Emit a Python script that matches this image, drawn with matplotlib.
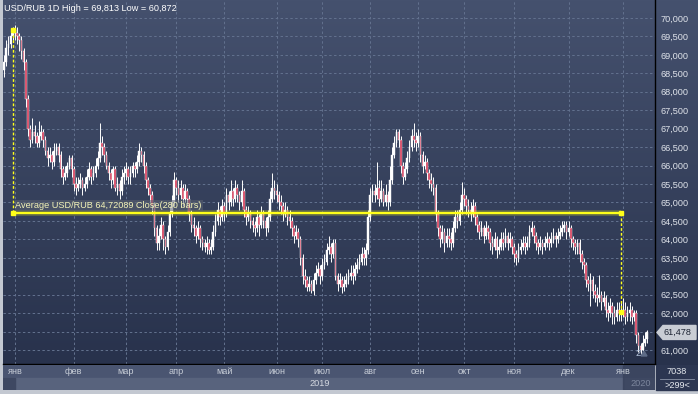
import matplotlib
matplotlib.use("Agg")
import matplotlib.pyplot as plt
import numpy as np
from matplotlib.colors import LinearSegmentedColormap
from matplotlib.patches import Rectangle, Polygon

plt.rcParams['font.family'] = ['Liberation Sans', 'DejaVu Sans']

# daily USD/RUB bars
first_open = 68.6
closes = [
    68.8, 69.2, 69.3, 69.5, 69.67, 69.6, 69.5, 69.4, 69.1, 68.8,
    67.8, 67.0, 66.7, 66.9, 66.8, 66.6, 66.8, 66.9, 66.7, 66.4,
    66.2, 66.3, 66.1, 66.4, 66.5, 66.3, 65.9, 65.7, 65.8, 66.0,
    66.2, 65.9, 65.5, 65.4, 65.5, 65.6, 65.4, 65.5, 65.7, 65.9,
    65.7, 65.8, 66.0, 66.2, 66.6, 66.5, 66.3, 66.0, 65.8, 65.6,
    65.9, 65.4, 65.5, 65.3, 65.7, 65.8, 65.9, 65.7, 65.8, 66.0,
    65.9, 66.1, 66.4, 66.3, 66.0, 65.6, 65.4, 65.2, 64.9, 64.3,
    63.9, 64.1, 64.4, 64.0, 63.8, 64.2, 64.7, 65.0, 65.6, 65.4,
    65.2, 65.4, 65.1, 65.3, 65.1, 64.7, 64.4, 64.3, 64.1, 64.3,
    64.0, 63.9, 63.8, 63.9, 63.7, 63.8, 64.2, 64.5, 64.8, 64.6,
    64.9, 64.7, 65.2, 65.0, 65.3, 65.1, 65.4, 65.2, 65.0, 65.3,
    64.8, 64.6, 64.7, 64.5, 64.4, 64.3, 64.6, 64.4, 64.7, 64.5,
    64.3, 64.6, 65.1, 65.4, 65.3, 65.2, 65.0, 64.9, 64.7, 64.8,
    64.6, 64.5, 64.3, 64.1, 64.2, 64.0, 63.5, 63.0, 62.9, 62.7,
    62.8, 62.6, 62.9, 63.1, 63.2, 63.0, 63.3, 63.4, 63.7, 63.8,
    63.6, 63.9, 63.0, 62.8, 62.9, 62.7, 62.8, 62.9, 63.0, 63.1,
    63.0, 63.2, 63.3, 63.4, 63.6, 63.5, 63.7, 64.6, 65.2, 65.3,
    65.2, 65.4, 65.1, 65.3, 65.0, 65.2, 65.0, 65.6, 66.3, 66.6,
    66.9, 66.7, 66.0, 65.7, 65.9, 66.2, 66.5, 66.8, 66.7, 66.6,
    66.8, 66.3, 66.0, 66.1, 65.8, 65.6, 65.5, 65.4, 64.7, 64.3,
    64.0, 64.2, 63.9, 64.1, 64.0, 63.9, 64.3, 64.6, 64.5, 64.8,
    65.2, 65.1, 64.9, 64.8, 64.7, 64.9, 64.6, 64.4, 64.2, 64.3,
    64.1, 64.3, 64.2, 63.9, 63.8, 64.0, 63.7, 63.8, 64.0, 63.9,
    64.1, 63.9, 64.0, 63.8, 63.6, 63.5, 63.7, 63.8, 63.9, 63.8,
    63.9, 64.2, 64.3, 64.1, 63.9, 63.8, 63.9, 63.8, 63.9, 64.0,
    63.9, 64.0, 64.1, 64.0, 64.1, 64.2, 64.3, 64.4, 64.2, 64.3,
    64.0, 63.9, 63.8, 63.9, 63.6, 63.4, 63.3, 62.9, 62.8, 62.9,
    62.6, 62.5, 62.4, 62.5, 62.3, 62.4, 62.1, 62.0, 62.2, 62.0,
    61.9, 62.1, 62.0, 62.03, 62.1, 61.9, 62.0, 62.1, 61.9, 62.0,
    61.4, 61.1, 61.0, 61.2, 61.3, 61.478,
]
highs = [
    69.0, 69.4, 69.5, 69.7, 69.75, 69.813, 69.75, 69.6, 69.5, 69.2,
    68.9, 67.9, 67.1, 67.3, 67.1, 66.9, 67.2, 67.1, 67.0, 66.8,
    66.5, 66.5, 66.4, 66.6, 66.6, 66.6, 66.4, 66.0, 66.0, 66.1,
    66.3, 66.3, 66.0, 65.7, 65.7, 65.8, 65.7, 65.7, 65.9, 66.1,
    66.0, 66.0, 66.2, 66.4, 67.15, 66.8, 66.6, 66.4, 66.1, 65.9,
    66.0, 66.0, 65.7, 65.6, 65.9, 66.0, 66.1, 66.0, 66.0, 66.1,
    66.1, 66.3, 66.6, 66.5, 66.4, 66.1, 65.7, 65.5, 65.3, 65.0,
    64.4, 64.3, 64.6, 64.5, 64.1, 64.4, 64.9, 65.2, 65.83, 65.7,
    65.6, 65.6, 65.5, 65.5, 65.4, 65.2, 64.8, 64.6, 64.4, 64.5,
    64.4, 64.1, 64.0, 64.1, 64.0, 64.0, 64.4, 64.7, 65.0, 64.9,
    65.1, 65.0, 65.4, 65.3, 65.6, 65.4, 65.6, 65.5, 65.3, 65.6,
    65.4, 64.9, 64.9, 64.8, 64.6, 64.5, 64.8, 64.7, 64.9, 64.8,
    64.6, 64.8, 65.3, 65.8, 65.6, 65.5, 65.3, 65.2, 65.0, 65.0,
    64.9, 64.8, 64.6, 64.4, 64.4, 64.3, 64.1, 63.6, 63.2, 63.0,
    63.0, 62.9, 63.1, 63.3, 63.4, 63.3, 63.5, 63.6, 63.9, 64.1,
    63.9, 64.0, 64.0, 63.1, 63.1, 63.0, 63.0, 63.1, 63.2, 63.3,
    63.3, 63.4, 63.5, 63.6, 63.8, 63.8, 63.9, 64.8, 65.4, 65.5,
    65.5, 66.1, 65.6, 65.6, 65.4, 65.5, 65.3, 66.0, 66.5, 66.8,
    67.0, 67.0, 66.8, 66.1, 66.1, 66.4, 66.7, 67.0, 67.15, 66.9,
    67.0, 66.9, 66.4, 66.3, 66.2, 65.9, 65.8, 65.7, 65.5, 64.8,
    64.4, 64.4, 64.3, 64.3, 64.3, 64.2, 64.5, 64.8, 64.8, 65.0,
    65.55, 65.4, 65.2, 65.1, 65.0, 65.1, 65.0, 64.7, 64.5, 64.5,
    64.4, 64.5, 64.4, 64.3, 64.1, 64.2, 64.1, 64.0, 64.2, 64.2,
    64.3, 64.2, 64.2, 64.1, 63.9, 63.7, 63.9, 64.0, 64.1, 64.1,
    64.1, 64.4, 64.5, 64.4, 64.2, 64.0, 64.1, 64.0, 64.1, 64.2,
    64.1, 64.2, 64.3, 64.2, 64.3, 64.4, 64.5, 64.5, 64.5, 64.5,
    64.4, 64.1, 64.0, 64.0, 64.0, 63.7, 63.5, 63.4, 63.0, 63.1,
    63.0, 62.8, 62.7, 63.03, 62.6, 62.6, 62.5, 62.3, 62.4, 62.3,
    62.2, 62.3, 62.3, 62.3, 62.4, 62.3, 62.2, 62.3, 62.2, 62.1,
    62.1, 61.5, 61.2, 61.4, 61.5, 61.55,
]
lows = [
    68.4, 68.7, 69.0, 69.2, 69.4, 69.4, 69.3, 69.1, 68.9, 68.6,
    67.6, 66.8, 66.5, 66.6, 66.6, 66.5, 66.5, 66.7, 66.5, 66.3,
    66.0, 66.1, 65.9, 66.0, 66.3, 66.1, 65.7, 65.5, 65.6, 65.7,
    65.9, 65.7, 65.3, 65.2, 65.3, 65.4, 65.2, 65.3, 65.4, 65.6,
    65.5, 65.6, 65.7, 65.9, 66.1, 66.3, 66.1, 65.9, 65.6, 65.4,
    65.5, 65.3, 65.2, 65.1, 65.2, 65.5, 65.6, 65.5, 65.5, 65.7,
    65.7, 65.8, 66.0, 66.1, 65.8, 65.4, 65.2, 65.0, 64.7, 64.1,
    63.7, 63.7, 64.0, 63.7, 63.6, 63.7, 64.1, 64.6, 64.9, 65.2,
    65.0, 65.1, 64.9, 65.0, 64.9, 64.5, 64.2, 64.1, 63.9, 64.0,
    63.8, 63.7, 63.65, 63.6, 63.6, 63.6, 63.7, 64.1, 64.4, 64.4,
    64.5, 64.5, 64.6, 64.8, 64.9, 64.9, 65.0, 65.0, 64.8, 64.9,
    64.6, 64.4, 64.5, 64.3, 64.2, 64.1, 64.2, 64.1, 64.3, 64.3,
    64.1, 64.2, 64.5, 65.0, 65.1, 65.0, 64.8, 64.7, 64.5, 64.6,
    64.4, 64.3, 64.1, 63.9, 64.0, 63.8, 63.3, 62.8, 62.7, 62.6,
    62.6, 62.55, 62.5, 62.8, 63.0, 62.8, 62.9, 63.2, 63.3, 63.6,
    63.4, 63.5, 62.9, 62.6, 62.7, 62.55, 62.6, 62.7, 62.8, 62.9,
    62.8, 62.9, 63.1, 63.2, 63.3, 63.3, 63.3, 63.6, 64.5, 65.0,
    65.0, 65.1, 64.9, 65.0, 64.9, 64.9, 64.8, 64.9, 65.5, 66.2,
    66.5, 66.5, 65.8, 65.5, 65.6, 65.8, 66.1, 66.4, 66.5, 66.4,
    66.5, 66.1, 65.8, 65.9, 65.6, 65.4, 65.3, 65.2, 64.5, 64.1,
    63.8, 63.9, 63.65, 63.8, 63.8, 63.7, 63.8, 64.2, 64.3, 64.4,
    64.7, 64.9, 64.7, 64.6, 64.5, 64.6, 64.4, 64.2, 64.0, 64.1,
    63.9, 64.0, 64.0, 63.7, 63.6, 63.7, 63.5, 63.6, 63.7, 63.7,
    63.8, 63.7, 63.8, 63.6, 63.4, 63.3, 63.4, 63.6, 63.7, 63.6,
    63.7, 63.8, 64.1, 63.9, 63.7, 63.6, 63.7, 63.6, 63.7, 63.8,
    63.7, 63.8, 63.9, 63.8, 63.9, 64.0, 64.1, 64.2, 64.0, 64.1,
    63.8, 63.7, 63.6, 63.6, 63.4, 63.2, 63.1, 62.7, 62.6, 62.2,
    62.4, 62.3, 62.2, 62.3, 62.1, 62.2, 61.9, 61.8, 61.9, 61.7,
    61.7, 61.8, 61.8, 61.8, 61.9, 61.7, 61.8, 61.8, 61.7, 61.8,
    61.2, 60.95, 60.872, 60.9, 61.1, 61.2,
]

month_pos = [5, 32, 56, 79, 101, 125, 146, 168, 190, 211, 234, 259, 284]
month_names = ['янв', 'фев', 'мар', 'апр', 'май', 'июн', 'июл',
               'авг', 'сен', 'окт', 'ноя', 'дек', 'янв']
year_pos = [145, 292]
year_names = ['2019', '2020']
price_ticks = np.arange(61.0, 70.001, 0.5)

avg_start, avg_end = 4, 283
avg_value = 64.72089
avg_text = 'Average USD/RUB 64,72089 Close(280 bars)'
title = 'USD/RUB 1D High = 69,813 Low = 60,872'
last_price = 61.478

W, H = 698, 394
FS = 6.6
bar_px = 2.18


def rect(x0, y0, x1, y1):
    # pixel box -> figure fraction
    return [x0 / W, 1 - y1 / H, (x1 - x0) / W, (y1 - y0) / H]


def fmt(p):
    return f'{p:.3f}'.replace('.', ',')


fig = plt.figure(figsize=(W / 100, H / 100), dpi=100, facecolor='#c3c8d1')

# gradient background behind chart + right scale
bg = fig.add_axes(rect(3, 0, W, 365))
cmap = LinearSegmentedColormap.from_list('bg', ['#45516e', '#28324c'])
bg.imshow(np.linspace(0, 1, 256).reshape(-1, 1), aspect='auto', cmap=cmap,
          extent=[0, 1, 0, 1], origin='upper')
bg.set_axis_off()

ax = fig.add_axes(rect(3, 0, 655, 364))
ax.patch.set_alpha(0)
closes = np.array(closes)
highs = np.array(highs)
lows = np.array(lows)
opens = np.r_[first_open, closes[:-1]]
x = np.arange(len(closes))

y_top = 70 + 18 / 36.9
y_bot = 70 - (364 - 18) / 36.9
ax.set_ylim(y_bot, y_top)
ax.set_xlim(-1 / bar_px, (655 - 4) / bar_px)

grid_c = '#63728f'
for p in price_ticks:
    ax.axhline(p, color=grid_c, lw=0.7, ls=(0, (2.5, 2.5)), zorder=1)
for m in month_pos:
    ax.axvline(m, color=grid_c, lw=0.7, ls=(0, (2.5, 2.5)), zorder=1)

up = closes >= opens
body_lo = np.minimum(opens, closes)
body_h = np.maximum(np.abs(closes - opens), 0.03)
ax.vlines(x, lows, highs, color='white', lw=0.7, zorder=3)
ax.bar(x, body_h, bottom=body_lo, width=0.75,
       color=np.where(up, '#ffffff', '#d0304f'), edgecolor='white',
       linewidth=0.3, zorder=4)

# average close marker
yel = '#ffff1a'
ax.plot([avg_start, avg_end], [avg_value, avg_value], color=yel, lw=4,
        alpha=0.25, zorder=5, solid_capstyle='butt')
ax.plot([avg_start, avg_end], [avg_value, avg_value], color=yel, lw=1.6,
        zorder=6, solid_capstyle='butt')
ax.plot([avg_start, avg_start], [closes[avg_start], avg_value], color=yel,
        lw=1.0, ls=(0, (2, 1.5)), zorder=6)
ax.plot([avg_end, avg_end], [avg_value, closes[avg_end]], color=yel,
        lw=1.0, ls=(0, (2, 1.5)), zorder=6)
ax.plot([avg_start, avg_start, avg_end, avg_end],
        [closes[avg_start], avg_value, avg_value, closes[avg_end]],
        ls='none', marker='s', ms=3, color=yel, zorder=7)
ax.text(avg_start + 1.2, avg_value + 0.07, avg_text, fontsize=FS,
        color='#f4f4b8', va='bottom', ha='left', zorder=7,
        bbox=dict(facecolor='#5c6272', alpha=0.55, edgecolor='none', pad=0.6))

# right price scale; the 61,500 label sits under the last-price marker
ax.yaxis.tick_right()
ax.set_yticks(price_ticks)
ax.set_yticklabels(['' if abs(p - 61.5) < 1e-6 else fmt(p) for p in price_ticks])
ax.tick_params(axis='y', length=0, pad=4, labelsize=FS, colors='#dfe3ea')
ax.set_xticks([])
for side in ['top', 'left']:
    ax.spines[side].set_visible(False)
ax.spines['right'].set_color('black')
ax.spines['bottom'].set_color('black')
ax.spines['right'].set_linewidth(1)
ax.spines['bottom'].set_linewidth(1)

# time scale panel
tx = fig.add_axes(rect(3, 365, 655, 390))
tx.set_xlim(ax.get_xlim())
tx.set_ylim(25, 0)
tx.set_axis_off()
tx.add_patch(Rectangle((-5, 0), 400, 13, color='#4a5571', zorder=0))
tx.add_patch(Rectangle((-5, 13), 400, 12, color='#58637d', zorder=0))
tx.add_patch(Rectangle((-5, 13), 10, 12, color='#3e4862', zorder=1))
tx.add_patch(Rectangle((284, 0), 20, 25, color='#36405a', alpha=0.75, zorder=1))
for m, name in zip(month_pos, month_names):
    tx.text(m, 6.5, name, fontsize=FS, color='#c6ccd6', ha='center', va='center', zorder=2)
tx.text(year_pos[0], 19, year_names[0], fontsize=FS, color='#d4d8e0', ha='center', va='center')
tx.text(year_pos[1], 19, year_names[1], fontsize=FS, color='#7c869c', ha='center', va='center', zorder=2)

# overlay in pixel coordinates for the labels around the chart
ov = fig.add_axes([0, 0, 1, 1])
ov.set_xlim(0, W)
ov.set_ylim(H, 0)
ov.set_axis_off()
ov.patch.set_alpha(0)
ov.add_patch(Rectangle((656, 365), 42, 25, color='#2c3651'))
ov.plot([660, 694], [379, 379], color='#8a93a6', lw=0.6)
ov.text(677, 372, '7038', fontsize=FS, color='#e4e8ee', ha='center', va='center')
ov.text(677, 385.5, '>299<', fontsize=FS, color='#e4e8ee', ha='center', va='center')
ov.text(4, 8, title, fontsize=FS, color='white', ha='left', va='center')

py = 18 + (70 - last_price) * 36.9
ov.add_patch(Polygon([(657, py), (663, py - 7), (696, py - 7), (696, py + 7), (663, py + 7)],
                     closed=True, color='#c9cdd4', zorder=5))
ov.text(664, py, fmt(last_price), fontsize=FS, color='#1d2433',
        ha='left', va='center', zorder=6)
ov.text(638, 353, '2', fontsize=FS, color='#b8c8e0', ha='center', va='center')
ov.add_patch(Polygon([(641, 356), (644, 351), (647, 356)], closed=True, color='#5d6b86'))

fig.savefig('out.png', dpi=100, facecolor=fig.get_facecolor())
